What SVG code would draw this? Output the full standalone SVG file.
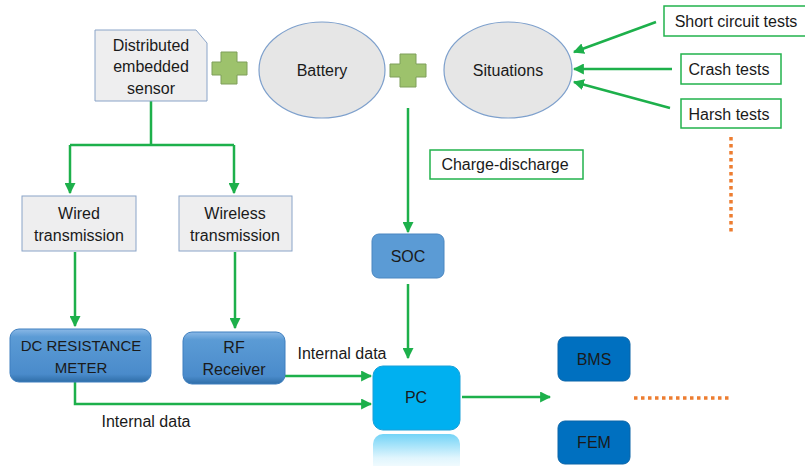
<svg xmlns="http://www.w3.org/2000/svg" width="805" height="466" viewBox="0 0 805 466">
<defs>
<style>
text{font-family:"Liberation Sans",Arial,sans-serif;font-size:16px;fill:#1a1a1a;text-anchor:middle}
.gray{fill:#eeeeef;stroke:#8aa4c8;stroke-width:1}
.ell{fill:#e6e6e6;stroke:#7ea0cc;stroke-width:1.2}
.plus{fill:#9dc26c;stroke:#7f9f5a;stroke-width:1}
.gbox{fill:#fff;stroke:#22b24c;stroke-width:1.5}
.conn{fill:none;stroke:#1db04b;stroke-width:2.5}
.dot{fill:none;stroke:#ed7d31;stroke-width:3.5;stroke-dasharray:3.5 3.5}
.dark{fill:#0070c0;stroke:#0a64a8;stroke-width:1}
</style>
<marker id="ah" viewBox="0 0 10 10" refX="9" refY="5" markerWidth="4.4" markerHeight="4.4" orient="auto" markerUnits="strokeWidth">
<path d="M0,0 L10,5 L0,10 z" fill="#1db04b"/>
</marker>
<linearGradient id="bev" x1="0" y1="0" x2="0" y2="1">
<stop offset="0" stop-color="#8ab8e6"/>
<stop offset="0.15" stop-color="#5b9bd5"/>
<stop offset="0.85" stop-color="#4a8bcb"/>
<stop offset="1" stop-color="#2f6ea8"/>
</linearGradient>
<linearGradient id="refl" x1="0" y1="0" x2="0" y2="1">
<stop offset="0" stop-color="#00b0f0" stop-opacity="0.55"/>
<stop offset="0.6" stop-color="#00b0f0" stop-opacity="0.12"/>
<stop offset="1" stop-color="#00b0f0" stop-opacity="0"/>
</linearGradient>
</defs>

<g id="connectors">
<path class="conn" d="M151,101 V145 M70,145 H234"/>
<path class="conn" marker-end="url(#ah)" d="M70,145 V193"/>
<path class="conn" marker-end="url(#ah)" d="M234,145 V193"/>
<path class="conn" marker-end="url(#ah)" d="M75,252 V326"/>
<path class="conn" marker-end="url(#ah)" d="M235,252 V328"/>
<path class="conn" marker-end="url(#ah)" d="M408,108 V232"/>
<path class="conn" marker-end="url(#ah)" d="M408,284 V358"/>
<path class="conn" marker-end="url(#ah)" d="M285,376 H371"/>
<path class="conn" marker-end="url(#ah)" d="M75,382 V404 H371"/>
<path class="conn" marker-end="url(#ah)" d="M462,397 H550"/>
<path class="conn" marker-end="url(#ah)" d="M656,22 L574,52"/>
<path class="conn" marker-end="url(#ah)" d="M672,69 H574"/>
<path class="conn" marker-end="url(#ah)" d="M670,108 L574,82"/>
<path class="dot" d="M731,137 V235"/>
<path class="dot" d="M634,398 H729"/>
<text x="146" y="427">Internal data</text>
<text x="342" y="359">Internal data</text>
</g>

<g id="sensor">
<path class="gray" d="M95,30 H196 L207,43 V101 H95 Z"/>
<text x="151" y="51">Distributed</text>
<text x="151" y="72">embedded</text>
<text x="151" y="94">sensor</text>
</g>
<g id="plus1">
<path class="plus" d="M221,52 H237 V62 H247 V75 H237 V84 H221 V75 H212 V62 H221 Z"/>
</g>
<g id="battery">
<ellipse class="ell" cx="322" cy="70" rx="63" ry="48"/>
<text x="322" y="76">Battery</text>
</g>
<g id="plus2">
<path class="plus" d="M400,54 H416 V64 H426 V77 H416 V87 H400 V77 H390 V64 H400 Z"/>
</g>
<g id="situations">
<ellipse class="ell" cx="508" cy="70" rx="64" ry="48"/>
<text x="508" y="76">Situations</text>
</g>
<g id="short">
<rect class="gbox" x="664" y="6" width="145" height="30"/>
<text x="736" y="27">Short circuit tests</text>
</g>
<g id="crash">
<rect class="gbox" x="681" y="54" width="100" height="30"/>
<text x="729" y="75">Crash tests</text>
</g>
<g id="harsh">
<rect class="gbox" x="681" y="99" width="100" height="29"/>
<text x="729" y="120">Harsh tests</text>
</g>
<g id="charge">
<rect class="gbox" x="430" y="150" width="153" height="29"/>
<text x="505" y="170">Charge-discharge</text>
</g>
<g id="wired">
<rect class="gray" x="22" y="196" width="114" height="55"/>
<text x="79" y="219">Wired</text>
<text x="79" y="241">transmission</text>
</g>
<g id="wireless">
<rect class="gray" x="179" y="196" width="113" height="55"/>
<text x="235" y="219">Wireless</text>
<text x="235" y="241">transmission</text>
</g>
<g id="dcmeter">
<rect x="10" y="329" width="141" height="53" rx="9" fill="url(#bev)" stroke="#3f7fbf"/>
<text x="81" y="351" style="font-size:15px">DC RESISTANCE</text>
<text x="81" y="373" style="font-size:15px">METER</text>
</g>
<g id="rf">
<rect x="183" y="332" width="102" height="52" rx="9" fill="url(#bev)" stroke="#3f7fbf"/>
<text x="234" y="353">RF</text>
<text x="234" y="375">Receiver</text>
</g>
<g id="soc">
<rect x="372" y="234" width="72" height="44" rx="7" fill="#5b9bd5" stroke="#4a86c0"/>
<text x="408" y="262">SOC</text>
</g>
<g id="pc">
<rect x="373" y="366" width="87" height="64" rx="10" fill="#00b0f0" stroke="#1aa0d8"/>
<text x="416" y="403">PC</text>
<rect x="373" y="434" width="87" height="40" rx="10" fill="url(#refl)"/>
</g>
<g id="bms">
<rect class="dark" x="558" y="337" width="72" height="44" rx="7"/>
<text x="594" y="365">BMS</text>
</g>
<g id="fem">
<rect class="dark" x="558" y="421" width="72" height="43" rx="7"/>
<text x="594" y="448">FEM</text>
</g>
</svg>
